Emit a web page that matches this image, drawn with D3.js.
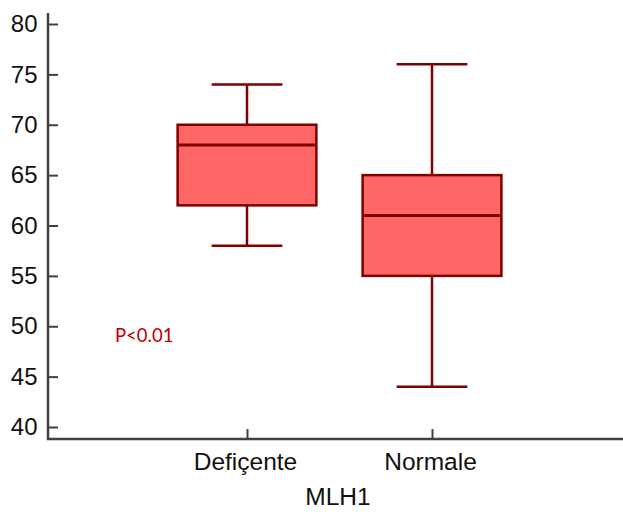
<!DOCTYPE html>
<html>
<head>
<meta charset="utf-8">
<script src="https://cdn.jsdelivr.net/npm/d3@7"></script>
<style>
  body { margin: 0; background: #fff; }
  svg { display: block; }
</style>
</head>
<body>
<svg></svg>
<script>
let categories = ['Defiçente', 'Normale']
let whiskerLow = [58, 44]
let q1 = [62, 55]
let medians = [68, 61]
let q3 = [70, 65]
let whiskerHigh = [74, 76]
let yTicks = [40, 45, 50, 55, 60, 65, 70, 75, 80]

let width = 623
let height = 512

let boxes = categories.map((c, i) => ({
  name: c, lo: whiskerLow[i], q1: q1[i], med: medians[i], q3: q3[i], hi: whiskerHigh[i]
}))

let svg = d3.select('svg').attr('width', width).attr('height', height)

let yScale = d3.scaleLinear().domain([40, 80]).range([427, 24])
let xScale = d3.scalePoint().domain(categories).range([247, 432])

let axisColor = '#404040'
let xAxisY = yScale(38.8)
let yAxisX = 48
let font = 'Liberation Sans, Arial, sans-serif'

// y axis
let yAxis = d3.axisRight(yScale).tickValues(yTicks).tickSize(10).tickFormat(d3.format('d'))
let gy = svg.append('g')
   .attr('transform', 'translate(' + yAxisX + ',0)')
   .call(yAxis)
gy.select('.domain').remove()
gy.selectAll('.tick line').attr('stroke', axisColor).attr('stroke-width', 2)
gy.selectAll('.tick text')
  .attr('x', -10.5)
  .attr('text-anchor', 'end')
  .attr('font-family', font)
  .attr('font-size', 24)
  .attr('fill', '#111')
svg.append('line')
   .attr('x1', yAxisX).attr('x2', yAxisX)
   .attr('y1', yScale(81.1)).attr('y2', xAxisY + 1)
   .attr('stroke', axisColor).attr('stroke-width', 2.5)

// x axis
let xAxis = d3.axisTop(xScale).tickSize(10).tickFormat('')
let gx = svg.append('g')
   .attr('transform', 'translate(0,' + xAxisY + ')')
   .call(xAxis)
gx.select('.domain').remove()
gx.selectAll('.tick line').attr('stroke', axisColor).attr('stroke-width', 2)
svg.append('line')
   .attr('x1', yAxisX - 1).attr('x2', width)
   .attr('y1', xAxisY).attr('y2', xAxisY)
   .attr('stroke', axisColor).attr('stroke-width', 2.5)

svg.selectAll('.catlabel')
   .data(categories)
   .enter()
   .append('text')
   .attr('class', 'catlabel')
   .attr('x', (d) => xScale(d) - 1.5)
   .attr('y', 470)
   .attr('text-anchor', 'middle')
   .attr('font-family', font)
   .attr('font-size', 24.5)
   .attr('fill', '#111')
   .text((d) => d)

svg.append('text')
   .attr('x', 338)
   .attr('y', 505)
   .attr('text-anchor', 'middle')
   .attr('font-family', font)
   .attr('font-size', 24.5)
   .attr('fill', '#111')
   .text('MLH1')

// boxes
let step = xScale.step()
let boxW = step * 0.75
let capW = boxW * 0.51
let stroke = '#800000'

let g = svg.selectAll('.box')
   .data(boxes)
   .enter()
   .append('g')
   .attr('class', 'box')

g.append('line')
 .attr('x1', (d) => xScale(d.name)).attr('x2', (d) => xScale(d.name))
 .attr('y1', (d) => yScale(d.hi)).attr('y2', (d) => yScale(d.lo))
 .attr('stroke', stroke).attr('stroke-width', 2.5)

g.append('rect')
 .attr('x', (d) => xScale(d.name) - boxW / 2)
 .attr('width', boxW)
 .attr('y', (d) => yScale(d.q3))
 .attr('height', (d) => yScale(d.q1) - yScale(d.q3))
 .attr('fill', '#ff6666')
 .attr('stroke', stroke).attr('stroke-width', 2.5)

g.append('line')
 .attr('x1', (d) => xScale(d.name) - boxW / 2).attr('x2', (d) => xScale(d.name) + boxW / 2)
 .attr('y1', (d) => yScale(d.med)).attr('y2', (d) => yScale(d.med))
 .attr('stroke', stroke).attr('stroke-width', 3)

;['hi', 'lo'].forEach((k) => {
  g.append('line')
   .attr('x1', (d) => xScale(d.name) - capW / 2).attr('x2', (d) => xScale(d.name) + capW / 2)
   .attr('y1', (d) => yScale(d[k])).attr('y2', (d) => yScale(d[k]))
   .attr('stroke', stroke).attr('stroke-width', 2.5)
})

svg.append('text')
   .attr('x', 115)
   .attr('y', 342)
   .attr('font-family', 'Lato, Open Sans, sans-serif')
   .attr('font-size', 18.5)
   .attr('fill', '#c00000')
   .text('P<0.01')
</script>
</body>
</html>
